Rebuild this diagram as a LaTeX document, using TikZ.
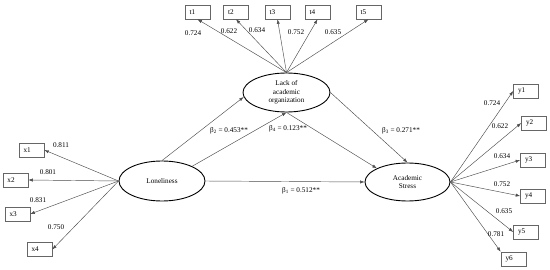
\documentclass[tikz,border=0pt]{standalone}
\usepackage{fontspec}
\setmainfont{Liberation Serif}
\usetikzlibrary{arrows.meta,shapes.geometric}
\begin{document}
\begin{tikzpicture}[x=1pt,y=-1pt,
  font=\fontsize{7.2}{8.4}\selectfont,
  lat/.style={ellipse,draw=black,line width=0.9pt,inner sep=0pt,align=center},
  obs/.style={rectangle,draw=black!60,line width=0.6pt,minimum height=14pt,
     text width=16pt,inner xsep=4.5pt,inner ysep=0pt,align=left},
  arr/.style={draw=black!70,line width=0.45pt,-{Latex[length=4.5pt,width=3.2pt]}},
  lbl/.style={inner sep=0pt}]
\useasboundingbox (0,0) rectangle (550,270);
% latent variables
\node[lat,minimum width=86pt,minimum height=40pt] (lon) at (162,181) {Loneliness};
\node[lat,minimum width=87pt,minimum height=39pt] (lack) at (286.5,92.5) {Lack of\\academic\\organization};
\node[lat,minimum width=85pt,minimum height=38pt] (as) at (407.5,182) {Academic\\Stress};
% indicators
\node[obs] (t1) at (197.5,12) {t1};
\node[obs] (t2) at (236,12) {t2};
\node[obs] (t3) at (277.5,12) {t3};
\node[obs] (t4) at (317.5,12) {t4};
\node[obs] (t5) at (368.5,12) {t5};
\node[obs] (x1) at (31.5,150) {x1};
\node[obs] (x2) at (15.5,180) {x2};
\node[obs] (x3) at (17.5,214) {x3};
\node[obs] (x4) at (39.5,249.5) {x4};
\node[obs] (y1) at (526,91) {y1};
\node[obs] (y2) at (534,123) {y2};
\node[obs] (y3) at (533,160) {y3};
\node[obs] (y4) at (533,196) {y4};
\node[obs] (y5) at (526,232) {y5};
\node[obs] (y6) at (513.5,259) {y6};
% loadings
\foreach \t in {t1,t2,t3,t4,t5} \draw[arr] (lack.north) -- (\t.south);
\foreach \x in {x1,x2,x3,x4} \draw[arr] (lon.west) -- (\x.east);
\foreach \y in {y1,y2,y3,y4,y5} \draw[arr] (as.east) -- (\y.west);
\draw[arr] (as.east) -- (y6.north west);
% structural paths
\draw[arr] (lon.north) -- (lack.186);
\draw[arr] (lon.26) -- (lack.south);
\draw[arr] (lack.south) -- (as.156);
\draw[arr] (lack.east) -- (as.north);
\draw[arr] (lon.east) -- (as.west);
% loading labels
\node[lbl] (lt1) at (193,33) {0.724};
\node[lbl] (lt2) at (229,31) {0.622};
\node[lbl] (lt3) at (257,30) {0.634};
\node[lbl] (lt4) at (296,32) {0.752};
\node[lbl] (lt5) at (333,32) {0.635};
\node[lbl] (lx1) at (61,145) {0.811};
\node[lbl] (lx2) at (48,172) {0.801};
\node[lbl] (lx3) at (38,200) {0.831};
\node[lbl] (lx4) at (56,227) {0.750};
\node[lbl] (ly1) at (492,103) {0.724};
\node[lbl] (ly2) at (500,126) {0.622};
\node[lbl] (ly3) at (502,156) {0.634};
\node[lbl] (ly4) at (502,184) {0.752};
\node[lbl] (ly5) at (504,211) {0.635};
\node[lbl] (ly6) at (496,234) {0.781};
% path coefficients
\node[lbl] (b2) at (229,131) {β\textsubscript{2} = 0.453**};
\node[lbl] (b4) at (288,129) {β\textsubscript{4} = 0.123**};
\node[lbl] (b3) at (401,131) {β\textsubscript{3} = 0.271**};
\node[lbl] (b1) at (301,191) {β\textsubscript{1} = 0.512**};
\end{tikzpicture}
\end{document}
